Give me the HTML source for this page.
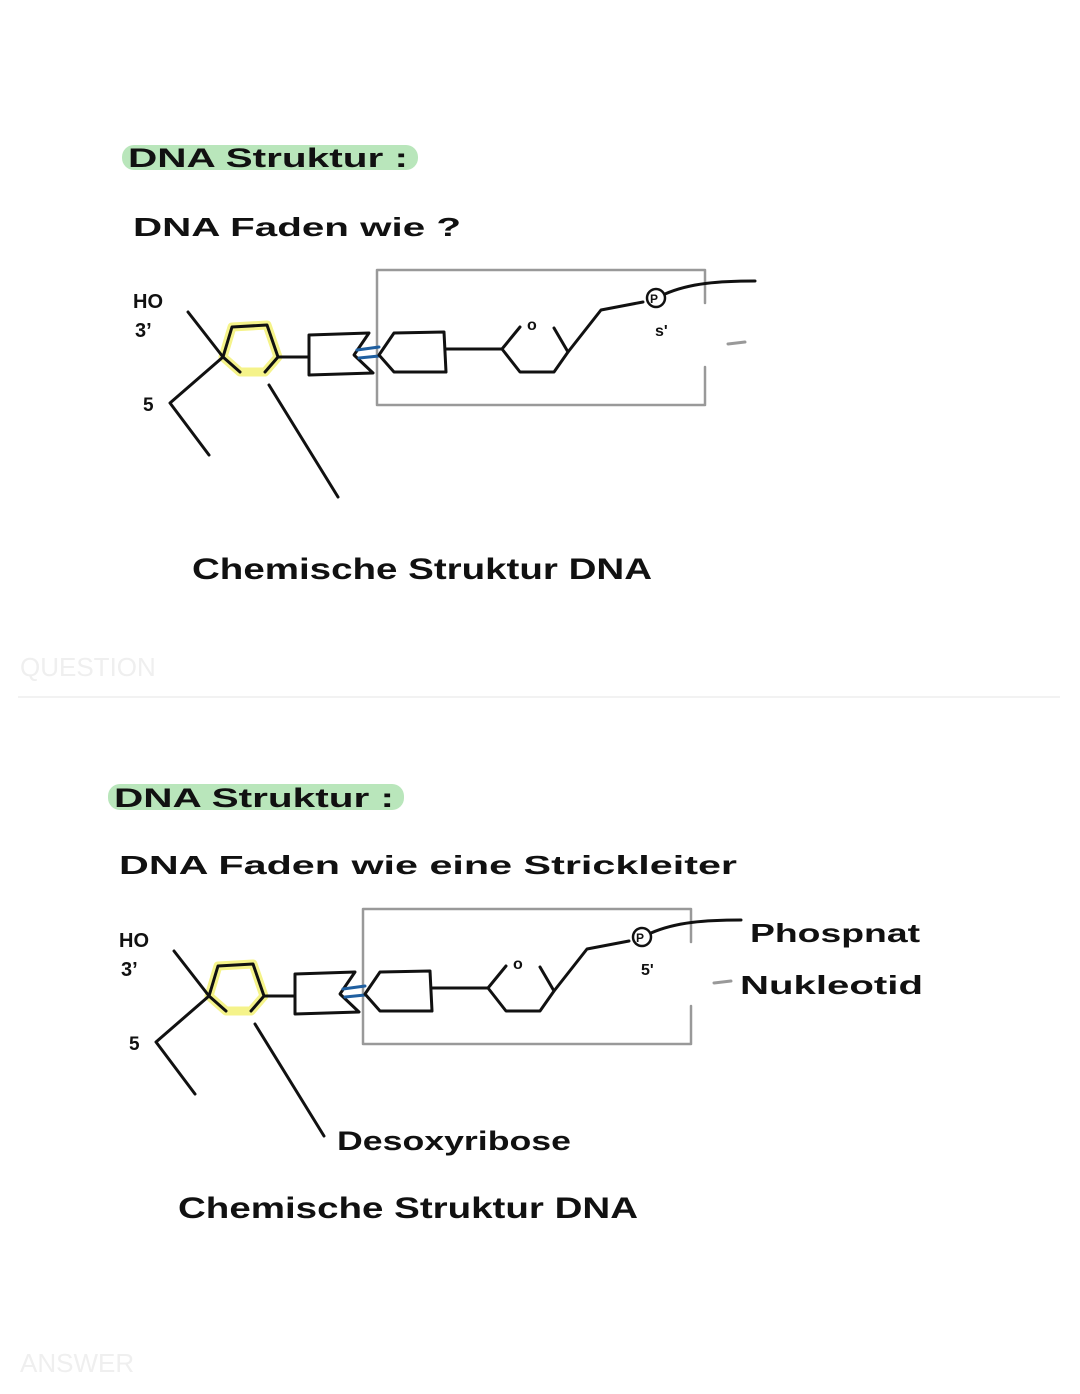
<!DOCTYPE html>
<html><head><meta charset="utf-8"><style>
html,body{margin:0;padding:0;background:#fff;}
svg{display:block;}
text{font-family:"Liberation Sans",sans-serif;font-weight:bold;fill:#111;}
</style></head><body>
<svg width="1080" height="1394" viewBox="0 0 1080 1394" xmlns="http://www.w3.org/2000/svg">
<defs>
<g id="dia" fill="none" stroke="#111" stroke-width="3" stroke-linejoin="round" stroke-linecap="round">
  <path d="M377,270 H705 V303 M705,367 V405 H377 V270" stroke="#999" stroke-width="2.5"/>
  <line x1="728" y1="344" x2="745" y2="342" stroke="#999" stroke-width="3"/>
  <polygon points="223,357 232,327 267,325 278,357 265,372 240,372" stroke="#f5f38a" stroke-width="9" fill="none"/>
  <polyline points="223,357 232,327 267,325 278,357 265,372"/>
  <polyline points="240,372 223,357"/>
  <line x1="188" y1="312" x2="223" y2="357"/>
  <polyline points="223,357 170,403 209,455"/>
  <line x1="269" y1="385" x2="338" y2="497"/>
  <line x1="278" y1="357" x2="309" y2="357"/>
  <polygon points="309,335 369,333 354,355 373,373 309,375"/>
  <line x1="357" y1="350" x2="379" y2="347" stroke="#1f5fa0"/>
  <line x1="359" y1="358" x2="379" y2="356" stroke="#1f5fa0"/>
  <polygon points="379,355 394,333 444,332 446,372 394,372"/>
  <line x1="446" y1="349" x2="502" y2="349"/>
  <polyline points="520,327 502,349 520,372 554,372 568,352 554,328"/>
  <polyline points="568,352 601,310 643,302"/>
  <circle cx="656" cy="298" r="9" stroke-width="2.5"/>
  <path d="M665,294 C690,283 720,281 755,281"/>
</g>
</defs>

<!-- top -->
<rect x="122" y="145" width="296" height="25" rx="12" fill="#b9e6bb"/>
<text x="128" y="167" font-size="27" textLength="280" lengthAdjust="spacingAndGlyphs">DNA Struktur :</text>
<text x="133" y="236" font-size="26" textLength="328" lengthAdjust="spacingAndGlyphs">DNA Faden wie ?</text>
<use href="#dia"/>
<text x="133" y="308" font-size="20">HO</text>
<text x="135" y="337" font-size="20">3’</text>
<text x="143" y="411" font-size="19">5</text>
<text x="527" y="330" font-size="16">o</text>
<text x="650" y="303" font-size="12">P</text>
<text x="655" y="336" font-size="16">s'</text>
<text x="192" y="579" font-size="30" textLength="460" lengthAdjust="spacingAndGlyphs">Chemische Struktur DNA</text>

<text x="20" y="676" font-size="26" style="fill:#efefef;font-weight:normal">QUESTION</text>
<line x1="18" y1="697" x2="1060" y2="697" stroke="#f2f2f2" stroke-width="2"/>

<!-- bottom -->
<rect x="108" y="784" width="296" height="26" rx="12" fill="#b9e6bb"/>
<text x="114" y="807" font-size="27" textLength="280" lengthAdjust="spacingAndGlyphs">DNA Struktur :</text>
<text x="119" y="874" font-size="26" textLength="618" lengthAdjust="spacingAndGlyphs">DNA Faden wie eine Strickleiter</text>
<g transform="translate(-14,639)">
  <use href="#dia"/>
  <text x="133" y="308" font-size="20">HO</text>
  <text x="135" y="337" font-size="20">3’</text>
  <text x="143" y="411" font-size="19">5</text>
  <text x="527" y="330" font-size="16">o</text>
  <text x="650" y="303" font-size="12">P</text>
  <text x="655" y="336" font-size="16">5'</text>
</g>
<text x="750" y="942" font-size="26" textLength="170" lengthAdjust="spacingAndGlyphs">Phospnat</text>
<text x="740" y="994" font-size="26" textLength="183" lengthAdjust="spacingAndGlyphs">Nukleotid</text>
<text x="337" y="1150" font-size="27" textLength="234" lengthAdjust="spacingAndGlyphs">Desoxyribose</text>
<text x="178" y="1218" font-size="30" textLength="460" lengthAdjust="spacingAndGlyphs">Chemische Struktur DNA</text>
<text x="20" y="1372" font-size="26" style="fill:#efefef;font-weight:normal">ANSWER</text>
</svg>
</body></html>
